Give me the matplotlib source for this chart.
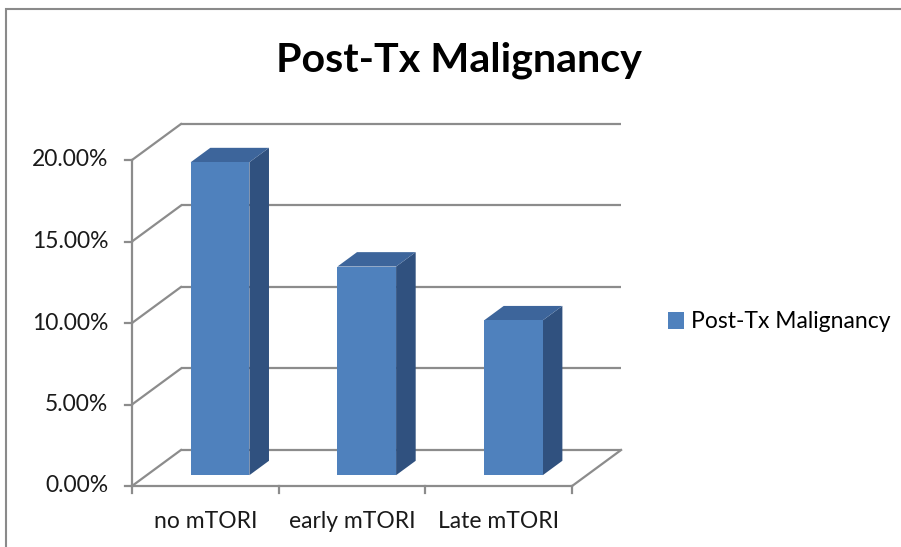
import matplotlib
matplotlib.use("Agg")
import matplotlib.pyplot as plt
from matplotlib.patches import Polygon, Rectangle, Patch

categories = ["no mTORI", "early mTORI", "Late mTORI"]
values = [19.2, 12.8, 9.5]
y_ticks = [0, 5, 10, 15, 20]
y_tick_labels = ["0.00%", "5.00%", "10.00%", "15.00%", "20.00%"]
series_name = "Post-Tx Malignancy"
title = "Post-Tx Malignancy"

FRONT = "#4f81bd"
TOP = "#3d659b"
SIDE = "#30517f"
GRID = "#8c8c8c"
TXT = "#1a1a1a"
FS = 16.5

# oblique offset of the back wall, in data units
DX = 0.334
DY = 2.21


def proj(x, y, z):
    return (x + z * DX, y + z * DY)


W, H = 901, 547
fig = plt.figure(figsize=(W / 100, H / 100), dpi=100)
ax = fig.add_axes([0, 0, 1, 1])
# pixel mapping: x=0 at px 132, 146.7 px per category; y=0 at px 486, 16.3 px per percent
ax.set_xlim(-132 / 146.7, (W - 132) / 146.7)
ax.set_ylim(-(H - 486) / 16.3, 486 / 16.3)
ax.axis("off")

# outer chart frame, only left and top edges visible
fig.patches.append(Rectangle((6 / W, -0.2), 1.2, 1.2 - 9 / H, transform=fig.transFigure,
                             fill=False, edgecolor="#8a8a8a", linewidth=1.5))

n = len(categories)
lw = 1.6

# back wall gridlines and side wall diagonals
for t, lab in zip(y_ticks, y_tick_labels):
    x0, y0 = proj(0, t, 1)
    x1, y1 = proj(n, t, 1)
    ax.plot([x0, x1], [y0, y1], color=GRID, lw=lw, solid_capstyle="butt")
    a = proj(0, t, 0)
    ax.plot([a[0], x0], [a[1], y0], color=GRID, lw=lw)
    ax.plot([a[0] - 0.05, a[0]], [a[1], a[1]], color=GRID, lw=lw)
    ax.text(a[0] - 0.16, a[1], lab, ha="right", va="center",
            fontsize=FS, family="Lato", color=TXT)

# front y axis
ax.plot([0, 0], [0, max(y_ticks)], color=GRID, lw=lw)
# floor front and right edges
ax.plot([0, n], [0, 0], color=GRID, lw=lw)
r0 = proj(n, 0, 0)
r1 = proj(n, 0, 1)
ax.plot([r0[0], r1[0]], [r0[1], r1[1]], color=GRID, lw=lw)
for i in range(n + 1):
    ax.plot([i, i], [0, -0.4], color=GRID, lw=lw)

# bars
bw = 0.4
z0, z1 = 0.3, 0.7
for i, v in enumerate(values):
    xl = i + 0.5 - bw / 2
    xr = i + 0.5 + bw / 2
    front = [proj(xl, 0, z0), proj(xr, 0, z0), proj(xr, v, z0), proj(xl, v, z0)]
    side = [proj(xr, 0, z0), proj(xr, 0, z1), proj(xr, v, z1), proj(xr, v, z0)]
    top = [proj(xl, v, z0), proj(xr, v, z0), proj(xr, v, z1), proj(xl, v, z1)]
    ax.add_patch(Polygon(side, closed=True, facecolor=SIDE, edgecolor="none", zorder=3))
    ax.add_patch(Polygon(top, closed=True, facecolor=TOP, edgecolor="none", zorder=3))
    ax.add_patch(Polygon(front, closed=True, facecolor=FRONT, edgecolor="none", zorder=4))
    ax.text(i + 0.5, -2.15, categories[i], ha="center", va="center",
            fontsize=FS, family="Lato", color=TXT)

ax.text((459 - 132) / 146.7, (486 - 60) / 16.3, title, ha="center", va="center",
        fontsize=29.7, fontweight="bold", family="Lato", color="black")

ax.legend(handles=[Patch(facecolor=FRONT, edgecolor="none", label=series_name)],
          loc="center left", bbox_to_anchor=(647 / W, 1 - 322 / H),
          frameon=False, prop={"family": "Lato", "size": FS},
          handlelength=0.7, handleheight=0.7, handletextpad=0.3)

fig.savefig("out.png", dpi=100)
